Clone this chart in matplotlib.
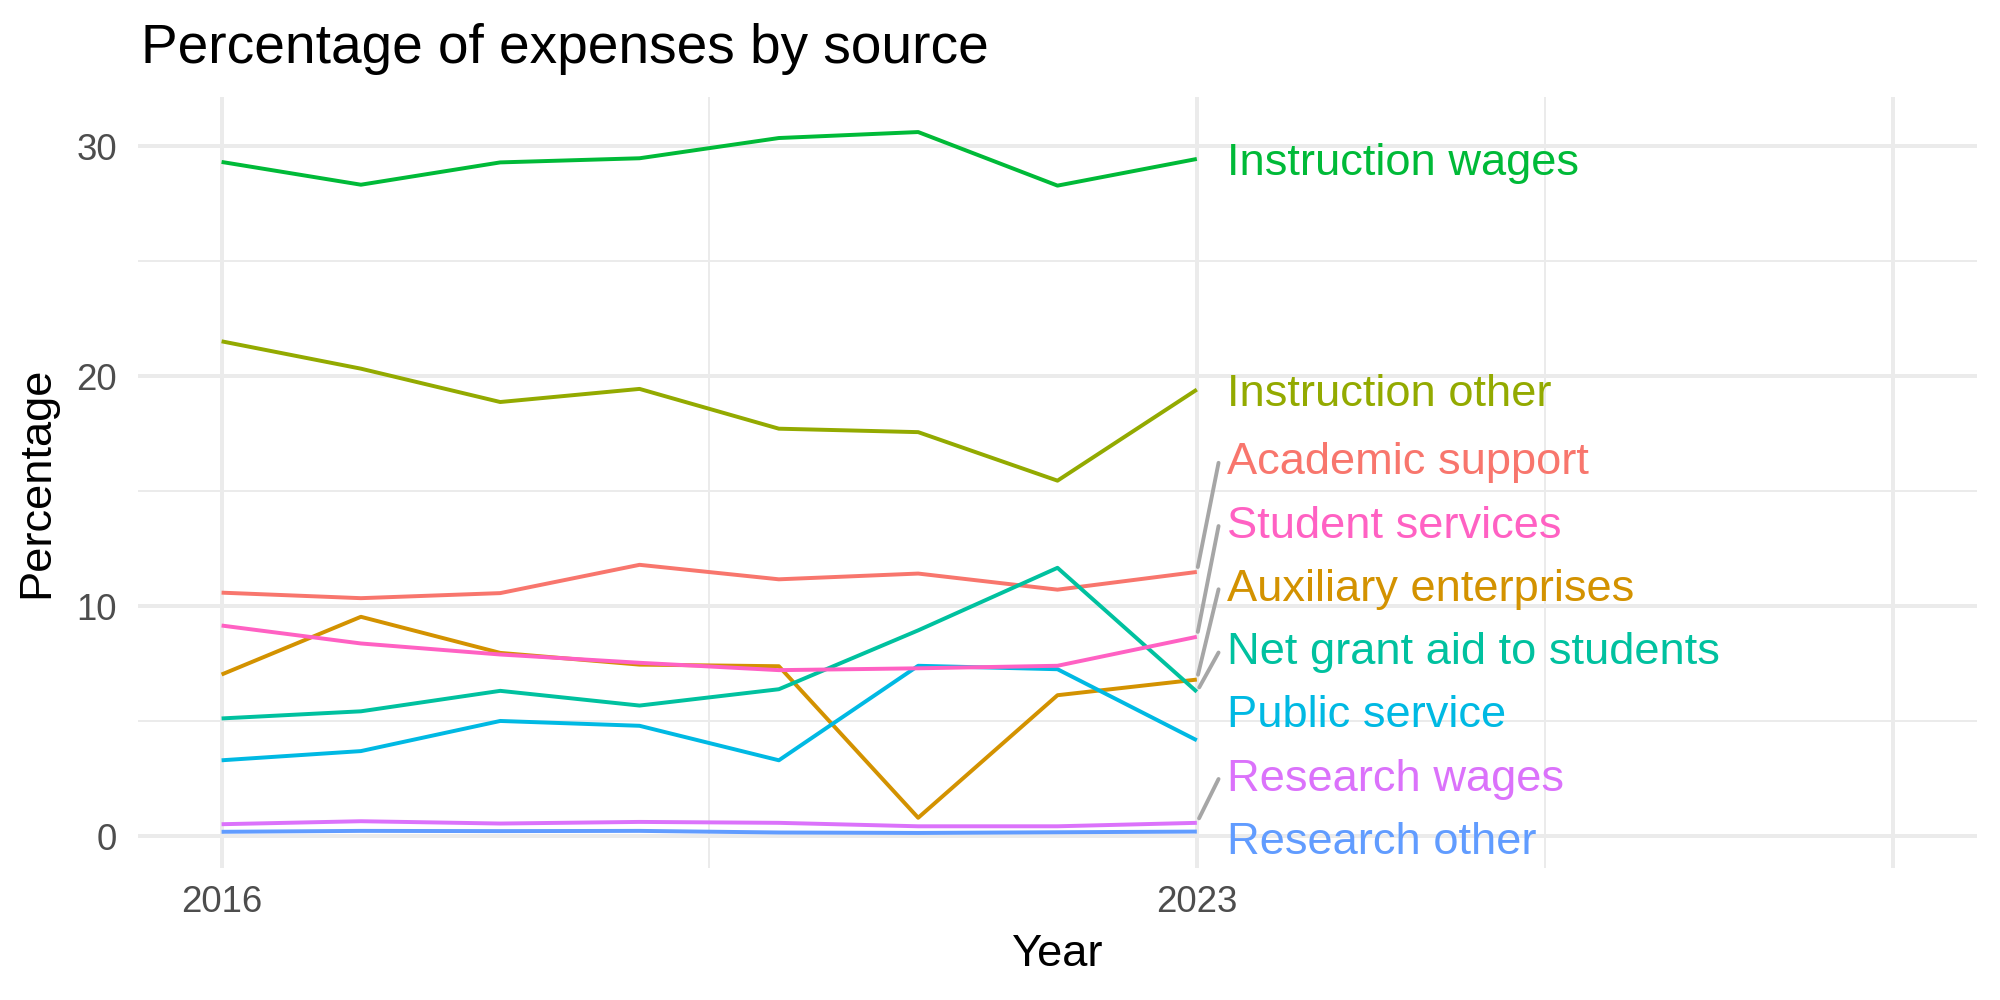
import numpy as np
from matplotlib import pyplot as plt
from matplotlib import transforms as mtransforms

years = [2016, 2017, 2018, 2019, 2020, 2021, 2022, 2023]

# series in ggplot factor order (alphabetical)
sources = [
    'Academic support',
    'Auxiliary enterprises',
    'Instruction other',
    'Instruction wages',
    'Net grant aid to students',
    'Public service',
    'Research other',
    'Research wages',
    'Student services',
]

academic_support = [10.59, 10.35, 10.57, 11.80, 11.17, 11.42, 10.72, 11.49]
auxiliary_enterprises = [7.03, 9.54, 7.97, 7.46, 7.39, 0.80, 6.13, 6.81]
instruction_other = [21.52, 20.33, 18.88, 19.45, 17.72, 17.57, 15.46, 19.42]
instruction_wages = [29.32, 28.33, 29.30, 29.48, 30.36, 30.62, 28.29, 29.45]
net_grant_aid = [5.12, 5.43, 6.32, 5.68, 6.39, 8.95, 11.67, 6.28]
public_service = [3.30, 3.70, 5.01, 4.80, 3.30, 7.41, 7.26, 4.17]
research_other = [0.19, 0.23, 0.22, 0.23, 0.16, 0.14, 0.17, 0.20]
research_wages = [0.52, 0.65, 0.55, 0.62, 0.58, 0.43, 0.43, 0.58]
student_services = [9.16, 8.38, 7.90, 7.54, 7.22, 7.30, 7.41, 8.67]

series = [
    academic_support,
    auxiliary_enterprises,
    instruction_other,
    instruction_wages,
    net_grant_aid,
    public_service,
    research_other,
    research_wages,
    student_services,
]

# ggplot hue palette for 9 groups
colors = ['#F8766D', '#D39200', '#93AA00', '#00BA38', '#00C19F',
          '#00B9E3', '#619CFF', '#DB72FB', '#FF61C3']

x_limits = [2016, 2028]
x_breaks = [2016, 2023, 2028]
x_labels = ['2016', '2023', '']
y_breaks = [0, 10, 20, 30]

LABEL_SIZE = 16.3


def repel(values, gap, lower):
    # 1D label repel: least squares placement with min gap, bounded below
    order = np.argsort(values)
    v = np.array(values)[order]
    n = len(v)
    w = v - np.arange(n) * gap
    blocks = []
    for val in w:
        blocks.append([val, 1])
        while len(blocks) > 1 and \
                blocks[-2][0] / blocks[-2][1] > blocks[-1][0] / blocks[-1][1]:
            s, c = blocks.pop()
            blocks[-1][0] += s
            blocks[-1][1] += c
    fit = np.concatenate([[s / c] * c for s, c in blocks])
    fit = np.maximum(fit, lower)
    out = np.empty(n)
    out[order] = fit + np.arange(n) * gap
    return out


plt.rcParams['font.family'] = ['Liberation Sans', 'DejaVu Sans']

fig = plt.figure(figsize=(10, 5), dpi=200)
ax = fig.add_axes([0.069, 0.132, 0.9195, 0.771])

for values, color in zip(series, colors):
    ax.plot(years, values, color=color, linewidth=1.42, zorder=3,
            solid_capstyle='butt')

# scales with ggplot-like 5% expansion
all_vals = np.concatenate([np.array(s) for s in series])
ylo, yhi = all_vals.min(), all_vals.max()
ypad = (yhi - ylo) * 0.05
ax.set_ylim(ylo - ypad, yhi + ypad)
xpad = (x_limits[1] - x_limits[0]) * 0.05
ax.set_xlim(x_limits[0] - xpad, x_limits[1] + xpad)

ax.set_xticks(x_breaks)
ax.set_xticklabels(x_labels)
ax.set_yticks(y_breaks)
ax.set_xticks([(a + b) / 2 for a, b in zip(x_breaks[:-1], x_breaks[1:])],
              minor=True)
ax.set_yticks([(a + b) / 2 for a, b in zip(y_breaks[:-1], y_breaks[1:])],
              minor=True)
ax.grid(which='major', color='#EBEBEB', linewidth=1.44, zorder=0)
ax.grid(which='minor', color='#EBEBEB', linewidth=0.72, zorder=0)
ax.set_axisbelow(True)
for sp in ax.spines.values():
    sp.set_visible(False)
ax.tick_params(which='both', length=0)
ax.tick_params(axis='y', labelsize=13.2, labelcolor='#4D4D4D', pad=7.5)
ax.tick_params(axis='x', labelsize=13.2, labelcolor='#4D4D4D', pad=6)

ax.set_xlabel('Year', fontsize=16.3, labelpad=5)
ax.set_ylabel('Percentage', fontsize=16.3, labelpad=7)
fig.text(0.0705, 0.937, 'Percentage of expenses by source', fontsize=19.8,
         ha='left', va='baseline')

# end labels, repelled vertically
last_vals = [s[-1] for s in series]
label_pos = repel(last_vals, 2.75, ax.get_ylim()[0] + 1.32)
last_year = years[-1]
label_x = last_year + 0.22
seg_x = last_year + 0.156
text_off = mtransforms.ScaledTranslation(0, -LABEL_SIZE * 0.716 / 2 / 72,
                                         fig.dpi_scale_trans)
for name, color, v, pos in zip(sources, colors, last_vals, label_pos):
    ax.text(label_x, pos, name, color=color, fontsize=LABEL_SIZE, ha='left',
            va='baseline', transform=ax.transData + text_off, zorder=4)
    if abs(pos - v) > 1.6:
        p0 = ax.transData.transform((last_year, v))
        p1 = ax.transData.transform((seg_x, pos - 0.2))
        d = (p1 - p0) / np.hypot(*(p1 - p0))
        p0 = p0 + d * 5
        inv = ax.transData.inverted()
        a = inv.transform(p0)
        b = inv.transform(p1)
        ax.plot([a[0], b[0]], [a[1], b[1]], color='#A6A6A6', linewidth=1.4,
                zorder=2, solid_capstyle='round')

fig.savefig('out.png', dpi=200)
